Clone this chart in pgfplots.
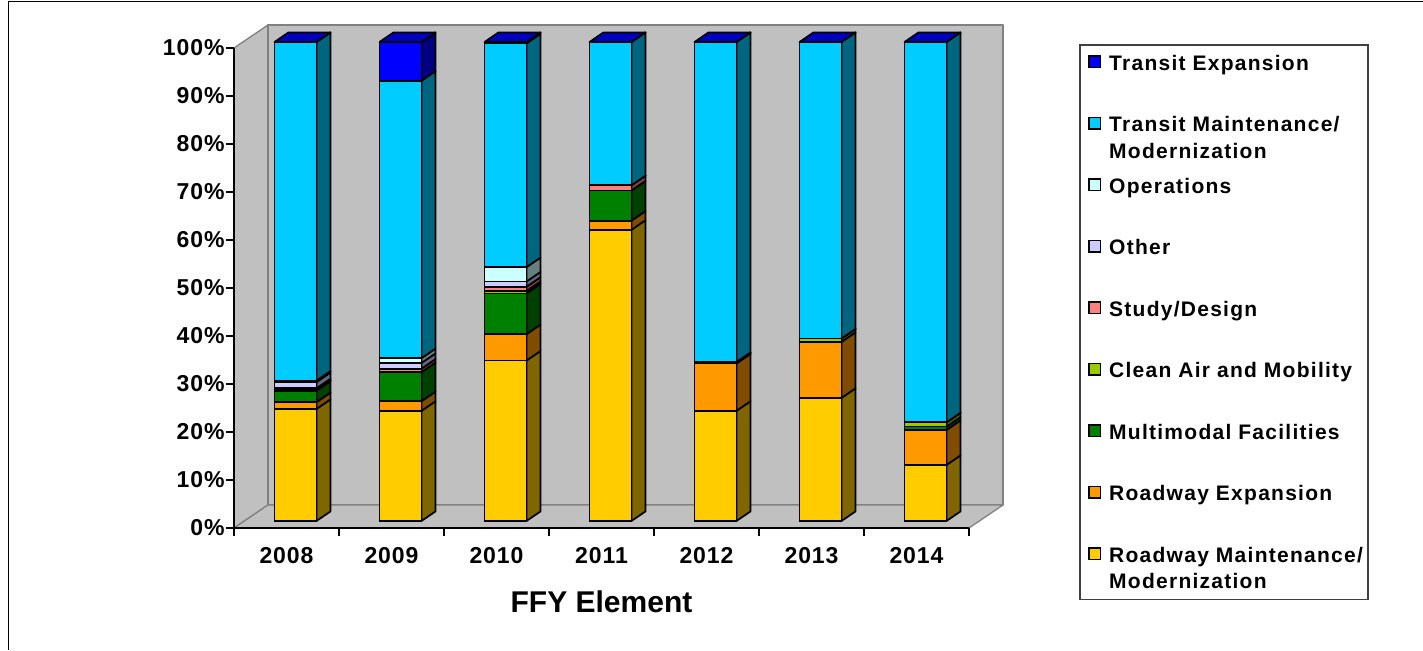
\documentclass[border=0pt]{standalone}
\usepackage{fontspec}
\setmainfont{Liberation Sans}
\newfontfamily\legfont[LetterSpace=6,BoldFont={Liberation Sans Bold}]{Liberation Sans}
\newfontfamily\tickfont[LetterSpace=4,BoldFont={Liberation Sans Bold}]{Liberation Sans}
\usepackage{pgfplots}
\usepackage{pgfplotstable}
\pgfplotsset{compat=1.18}

% shares per year, bottom of the stack first
\pgfplotstableread{
pos RM   RE   MF  CA  SD  OT  OP  TM   TE
0   23.4 1.4  2.4 0.2 0.3 1.3 0.3 70.7 0.0
1   23.0 2.0  6.1 0.0 0.7 1.2 1.0 57.9 8.1
2   33.5 5.5  8.5 0.5 0.9 1.1 3.0 46.7 0.3
3   60.8 1.9  6.3 0.0 1.1 0.0 0.0 29.9 0.0
4   23.0 9.9  0.0 0.3 0.0 0.0 0.0 66.8 0.0
5   25.7 11.7 0.0 0.7 0.0 0.0 0.0 61.9 0.0
6   11.7 7.3  0.7 0.9 0.0 0.0 0.0 79.4 0.0
}\shares

\definecolor{RMfill}{HTML}{FFCC00}\definecolor{RMside}{HTML}{806600}
\definecolor{REfill}{HTML}{FF9900}\definecolor{REside}{HTML}{804D00}
\definecolor{MFfill}{HTML}{008000}\definecolor{MFside}{HTML}{004000}
\definecolor{CAfill}{HTML}{99CC00}\definecolor{CAside}{HTML}{4D6600}
\definecolor{SDfill}{HTML}{FF8080}\definecolor{SDside}{HTML}{804040}
\definecolor{OTfill}{HTML}{CCCCFF}\definecolor{OTside}{HTML}{666680}
\definecolor{OPfill}{HTML}{CCFFFF}\definecolor{OPside}{HTML}{668080}
\definecolor{TMfill}{HTML}{00CCFF}\definecolor{TMside}{HTML}{006680}
\definecolor{TEfill}{HTML}{0000FF}\definecolor{TEside}{HTML}{000080}
\definecolor{TEtop}{HTML}{0000C0}
\definecolor{wall}{HTML}{C0C0C0}
\definecolor{walledge}{HTML}{808080}

\newcommand{\twoline}[2]{\smash{\begin{tabular}[t]{@{}l@{}}#1\\[1.5pt]#2\end{tabular}}}

% side faces and top face of one bar (3D look)
\newcommand{\sidefaces}[1]{%
  \pgfmathsetmacro\lo{0}
  \pgfplotstablegetelem{#1}{pos}\of\shares
  \pgfmathsetmacro\xa{\pgfplotsretval+0.2}
  \pgfmathsetmacro\xb{\xa+0.1333}
  \pgfmathsetmacro\xc{\xa-0.4}
  \pgfmathsetmacro\xd{\xb-0.4}
  \pgfplotsforeachungrouped \ser in {RM,RE,MF,CA,SD,OT,OP,TM,TE}{%
    \pgfplotstablegetelem{#1}{\ser}\of\shares
    \pgfmathsetmacro\hi{\lo+\pgfplotsretval}
    \pgfmathsetmacro\loB{\lo+2}
    \pgfmathsetmacro\hiB{\hi+2}
    \edef\face{\noexpand\addplot[fill=\ser side,draw=black,line width=1.7pt,line join=round] coordinates {(\xa,\lo) (\xb,\loB) (\xb,\hiB) (\xa,\hi)} -- cycle;}
    \face
    \global\let\lo\hi
  }
  \addplot[fill=TEtop,draw=black,line width=1.7pt,line join=round] coordinates {(\xc,100) (\xa,100) (\xb,102) (\xd,102)} -- cycle;
}

\begin{document}
\begin{tikzpicture}
  \path[use as bounding box] (0,0) rectangle (1423pt,650pt);

  % frame, legend box and chart walls, in picture pixels
  \begin{scope}[x=1pt,y=-1pt,yshift=650pt]
    \draw[black,line width=1.2pt] (8.5,650) -- (8.5,1.5) -- (1423,1.5);
    \draw[draw=black!75,line width=1.2pt] (1080,45) rectangle (1368,599.5);
    \filldraw[fill=wall,draw=walledge,line width=1.3pt,line join=round]
      (234,528) -- (268,505) -- (268,25) -- (234,48) -- cycle;
    \filldraw[fill=wall,draw=walledge,line width=1.3pt,line join=round]
      (268,25) -- (1003,25) -- (1003,505) -- (268,505) -- cycle;
    \filldraw[fill=wall,draw=walledge,line width=1.3pt,line join=round]
      (234,528) -- (969,528) -- (1003,505) -- (268,505) -- cycle;
  \end{scope}

  % side faces
  \begin{axis}[
      at={(243pt,129pt)}, anchor=south west, scale only axis,
      width=735pt, height=479pt,
      xmin=-0.5, xmax=6.5, ymin=0, ymax=100,
      hide axis, clip=false]
    \sidefaces{0}\sidefaces{1}\sidefaces{2}\sidefaces{3}\sidefaces{4}\sidefaces{5}\sidefaces{6}
  \end{axis}

  % front faces and legend
  \begin{axis}[
      at={(243pt,129pt)}, anchor=south west, scale only axis,
      width=735pt, height=479pt,
      xmin=-0.5, xmax=6.5, ymin=0, ymax=100,
      hide axis, clip=false,
      ybar stacked, bar width=42pt,
      reverse legend,
      legend cell align=left,
      legend image code/.code={\draw[#1,line width=1.5pt] (0pt,-2.5pt) rectangle (11.5pt,9pt);},
      legend style={
        at={(1.1456,0.9937)}, anchor=north west,
        draw=none, fill=none,
        inner xsep=3pt, inner ysep=8pt,
        row sep=37.5pt,
        font=\legfont\fontsize{21}{25}\bfseries\selectfont,
        nodes={text height=15pt,text depth=5pt,inner sep=2pt,text width=252pt},
        /tikz/every odd column/.append style={column sep=6pt}}]
    \addplot[fill=RMfill,draw=black,line width=1.7pt] table[x=pos,y=RM]{\shares};
    \addlegendentry{\twoline{Roadway Maintenance/}{Modernization}}
    \addplot[fill=REfill,draw=black,line width=1.7pt] table[x=pos,y=RE]{\shares};
    \addlegendentry{Roadway Expansion}
    \addplot[fill=MFfill,draw=black,line width=1.7pt] table[x=pos,y=MF]{\shares};
    \addlegendentry{Multimodal Facilities}
    \addplot[fill=CAfill,draw=black,line width=1.7pt] table[x=pos,y=CA]{\shares};
    \addlegendentry{Clean Air and Mobility}
    \addplot[fill=SDfill,draw=black,line width=1.7pt] table[x=pos,y=SD]{\shares};
    \addlegendentry{Study/Design}
    \addplot[fill=OTfill,draw=black,line width=1.7pt] table[x=pos,y=OT]{\shares};
    \addlegendentry{Other}
    \addplot[fill=OPfill,draw=black,line width=1.7pt] table[x=pos,y=OP]{\shares};
    \addlegendentry{Operations}
    \addplot[fill=TMfill,draw=black,line width=1.7pt] table[x=pos,y=TM]{\shares};
    \addlegendentry{\twoline{Transit Maintenance/}{Modernization}}
    \addplot[fill=TEfill,draw=black,line width=1.7pt] table[x=pos,y=TE]{\shares};
    \addlegendentry{Transit Expansion}
  \end{axis}

  % axis lines, ticks and labels on the front edge
  \begin{axis}[
      at={(234pt,122pt)}, anchor=south west, scale only axis,
      width=735pt, height=480pt,
      xmin=-0.5, xmax=6.5, ymin=0, ymax=100,
      axis x line=bottom, axis y line=left,
      axis line style={-,black,line width=1.2pt},
      tick align=outside,
      xtick={0,...,6},
      xticklabels={2008,2009,2010,2011,2012,2013,2014},
      minor xtick={-0.5,0.5,1.5,2.5,3.5,4.5,5.5,6.5},
      major x tick style={draw=none},
      minor x tick style={draw=black,line width=1.2pt},
      minor tick length=8pt,
      ytick={0,10,...,100},
      yticklabels={0\%,10\%,20\%,30\%,40\%,50\%,60\%,70\%,80\%,90\%,100\%},
      y tick style={draw=black,line width=1.2pt},
      major tick length=8pt,
      tick label style={font=\tickfont\fontsize{23}{26}\bfseries\selectfont},
      x tick label style={yshift=-8pt},
      y tick label style={xshift=2pt},
      xlabel={FFY Element},
      xlabel style={font=\fontsize{30}{33}\bfseries\selectfont,yshift=-20pt}]
  \end{axis}
\end{tikzpicture}
\end{document}
